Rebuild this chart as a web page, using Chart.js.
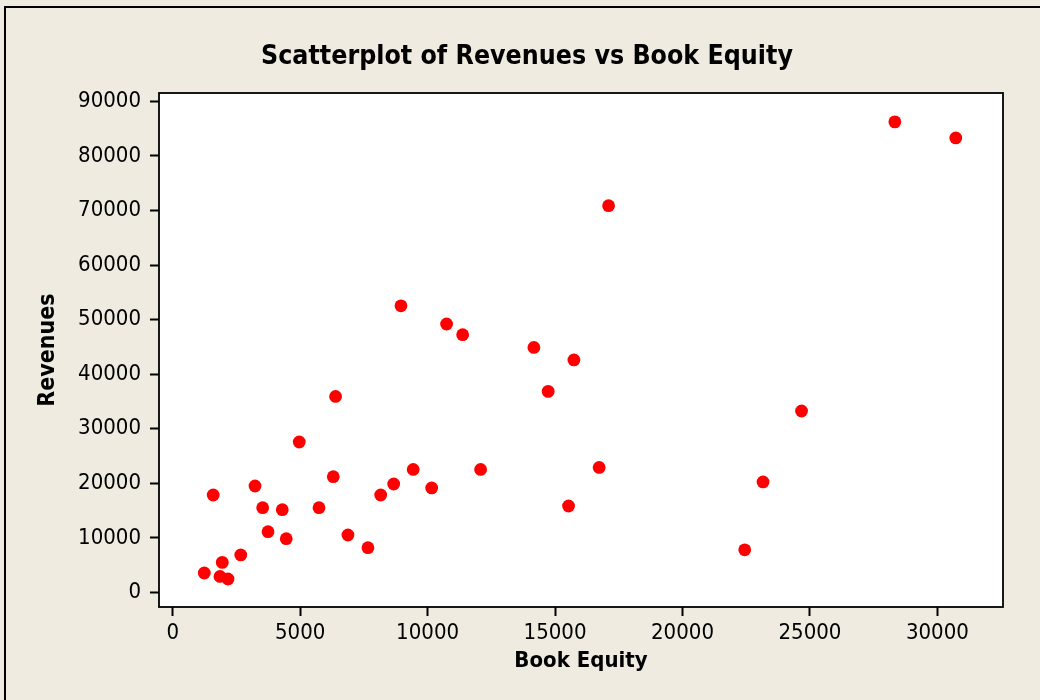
<!DOCTYPE html>
<html>
<head>
<meta charset="utf-8">
<script src="https://cdn.jsdelivr.net/npm/chart.js@4/dist/chart.umd.min.js"></script>
<style>
  html, body { margin: 0; padding: 0; background: #efebe1; }
  #wrap { width: 1040px; height: 700px; }
</style>
</head>
<body>
<div id="wrap"><canvas id="scatterChart" width="1040" height="700"></canvas></div>
<script>
// values
const bookEquity = [
    1240, 1590, 1855, 1945, 2170, 2670, 3230, 3530, 3740, 4300,
    4455, 4965, 5740, 6300, 6390, 6875, 7660, 8160, 8670, 8955,
    9435, 10160, 10745, 11375, 12080, 14170, 14730, 15530, 15740, 16730,
    17100, 22440, 23160, 24670, 28330, 30720
];
const revenues = [
    3560, 17850, 2930, 5500, 2460, 6860, 19500, 15520, 11130, 15160,
    9840, 27570, 15520, 21210, 35920, 10520, 8190, 17850, 19870, 52530,
    22540, 19140, 49190, 47230, 22540, 44900, 36840, 15840, 42600, 22910,
    70880, 7810, 20240, 33250, 86240, 83300
];
const xTicks = [0, 5000, 10000, 15000, 20000, 25000, 30000];
const yTicks = [0, 10000, 20000, 30000, 40000, 50000, 60000, 70000, 80000, 90000];
const chartTitle = 'Scatterplot of Revenues vs Book Equity';

const points = bookEquity.map((x, i) => ({ x: x, y: revenues[i] }));

const fontFamily = '"DejaVu Sans Condensed", "DejaVu Sans", sans-serif';
Chart.defaults.font.family = fontFamily;
Chart.defaults.color = '#000';

// beige background, outer frame, title, white plot area with black border
const framePlugin = {
    id: 'frame',
    beforeDraw(chart) {
        const c = chart.ctx;
        const a = chart.chartArea;
        c.save();
        c.fillStyle = '#efebe1';
        c.fillRect(0, 0, chart.width, chart.height);
        c.strokeStyle = '#000';
        c.lineWidth = 2;
        c.strokeRect(5, 7, chart.width + 20, chart.height + 20);
        c.fillStyle = '#fff';
        c.fillRect(a.left, a.top, a.right - a.left, a.bottom - a.top);
        // title sits centred on the page, not on the plot
        c.fillStyle = '#000';
        c.font = 'bold 26.5px ' + fontFamily;
        c.textAlign = 'center';
        c.textBaseline = 'middle';
        c.fillText(chartTitle, 527, 57);
        c.restore();
    },
    afterDatasetsDraw(chart) {
        const c = chart.ctx;
        const a = chart.chartArea;
        c.save();
        c.strokeStyle = '#000';
        c.lineWidth = 1.8;
        c.strokeRect(a.left, a.top, a.right - a.left, a.bottom - a.top);
        c.restore();
    }
};

const ctx = document.getElementById('scatterChart').getContext('2d');

new Chart(ctx, {
    type: 'scatter',
    data: {
        datasets: [{
            label: 'Revenues',
            data: points,
            backgroundColor: '#ff0000',
            borderWidth: 0,
            pointRadius: 6.4,
            pointHoverRadius: 6.4
        }]
    },
    options: {
        responsive: false,
        animation: false,
        layout: { padding: { top: 93, right: 37, bottom: 0, left: 0 } },
        plugins: {
            legend: { display: false },
            tooltip: { enabled: false },
            title: { display: false }
        },
        scales: {
            x: {
                type: 'linear',
                min: -537,
                max: 32573,
                afterBuildTicks: axis => { axis.ticks = xTicks.map(v => ({ value: v })); },
                afterFit: axis => { axis.height = 93; },
                border: { display: false },
                grid: {
                    drawOnChartArea: false,
                    drawTicks: true,
                    tickLength: 9,
                    tickWidth: 2,
                    tickColor: '#000'
                },
                ticks: {
                    padding: 4,
                    maxRotation: 0,
                    font: { size: 22 },
                    callback: v => String(v)
                },
                title: {
                    display: true,
                    text: 'Book Equity',
                    font: { size: 22, weight: 'bold' },
                    padding: { top: 0, bottom: 25.8 }
                }
            },
            y: {
                type: 'linear',
                min: -2676,
                max: 91532,
                afterBuildTicks: axis => { axis.ticks = yTicks.map(v => ({ value: v })); },
                afterFit: axis => { axis.width = 159; },
                border: { display: false },
                grid: {
                    drawOnChartArea: false,
                    drawTicks: true,
                    tickLength: 9,
                    tickWidth: 2,
                    tickColor: '#000'
                },
                ticks: {
                    padding: 9,
                    font: { size: 22 },
                    callback: v => String(v)
                },
                title: {
                    display: true,
                    text: 'Revenues',
                    font: { size: 23, weight: 'bold' },
                    padding: { top: 34.2, bottom: 0 }
                }
            }
        }
    },
    plugins: [framePlugin]
});
</script>
</body>
</html>
